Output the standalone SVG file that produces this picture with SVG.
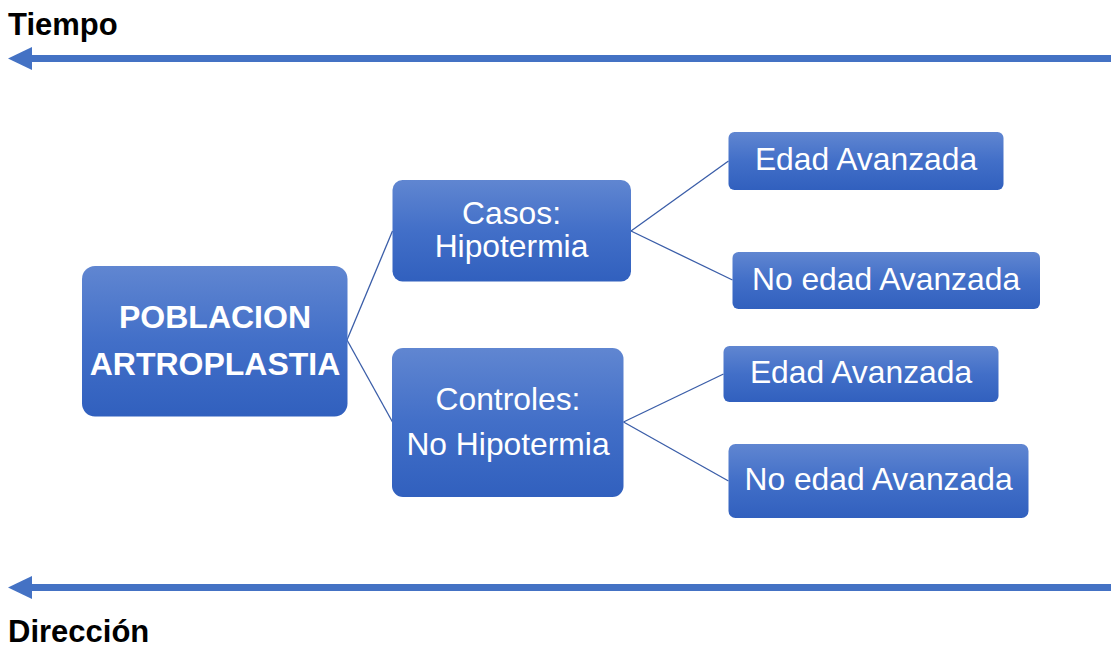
<svg xmlns="http://www.w3.org/2000/svg" width="1111" height="647" viewBox="0 0 1111 647">
<style>
.box{fill:url(#g);}
.t{font-family:"Liberation Sans",Arial,sans-serif;fill:#fff;text-anchor:middle;font-size:31.8px;}
.b{font-weight:bold;font-size:32px;}
.lbl{font-family:"Liberation Sans",Arial,sans-serif;font-weight:bold;font-size:31px;fill:#000;}
.c{stroke:#3A5DA8;stroke-width:1.3;fill:none;}
.arr{fill:#4472C4;}
</style>
<defs>
<linearGradient id="g" x1="0" y1="0" x2="0" y2="1">
<stop offset="0" stop-color="#6086D1"/>
<stop offset="0.5" stop-color="#426FC8"/>
<stop offset="1" stop-color="#3160BE"/>
</linearGradient>
</defs>
<rect width="1111" height="647" fill="#fff"/>
<g id="timeline-top">
<rect class="arr" x="30" y="55" width="1081" height="7"/>
<polygon class="arr" points="8,58.5 32,47 32,70"/>
</g>
<g id="timeline-bottom">
<rect class="arr" x="30" y="584" width="1081" height="7"/>
<polygon class="arr" points="8,587.5 32,576 32,599"/>
</g>
<text class="lbl" x="8" y="35">Tiempo</text>
<text class="lbl" x="8" y="642">Dirección</text>
<g id="connectors">
<line class="c" x1="347" y1="340" x2="392.5" y2="231"/>
<line class="c" x1="347" y1="340" x2="392.5" y2="422"/>
<line class="c" x1="631" y1="231" x2="728.5" y2="161"/>
<line class="c" x1="631" y1="231" x2="732.5" y2="280"/>
<line class="c" x1="623.5" y1="422" x2="723.5" y2="374"/>
<line class="c" x1="623.5" y1="422" x2="728.5" y2="481"/>
</g>
<g id="poblacion">
<rect class="box" x="82" y="266" width="265.5" height="150.5" rx="13"/>
<text class="t b" x="215" y="328">POBLACION</text>
<text class="t b" x="215" y="375">ARTROPLASTIA</text>
</g>
<g id="casos">
<rect class="box" x="392.5" y="180" width="238.5" height="101.5" rx="10"/>
<text class="t" x="511.5" y="224">Casos:</text>
<text class="t" x="511.5" y="257">Hipotermia</text>
</g>
<g id="controles">
<rect class="box" x="392" y="348" width="231.5" height="149" rx="11"/>
<text class="t" x="508" y="410">Controles:</text>
<text class="t" x="508" y="455">No Hipotermia</text>
</g>
<g id="edad1">
<rect class="box" x="728.5" y="132" width="275" height="58" rx="6"/>
<text class="t" x="866" y="170">Edad Avanzada</text>
</g>
<g id="noedad1">
<rect class="box" x="732.5" y="252" width="307.5" height="57" rx="6"/>
<text class="t" x="886" y="290">No edad Avanzada</text>
</g>
<g id="edad2">
<rect class="box" x="723.5" y="346" width="275" height="56" rx="6"/>
<text class="t" x="861" y="383">Edad Avanzada</text>
</g>
<g id="noedad2">
<rect class="box" x="728.5" y="444" width="300" height="74" rx="7"/>
<text class="t" x="878.5" y="490">No edad Avanzada</text>
</g>
</svg>
